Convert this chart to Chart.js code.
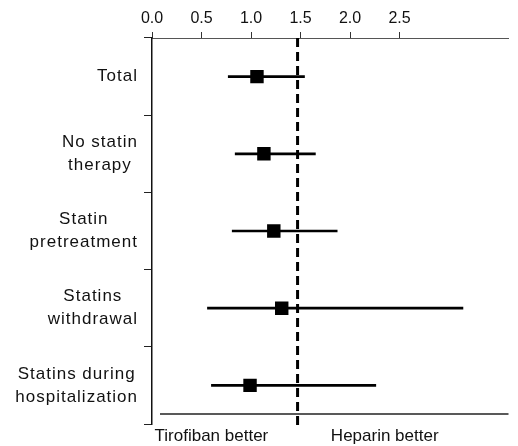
<!DOCTYPE html>
<html>
<head>
<meta charset="utf-8">
<script src="https://cdn.jsdelivr.net/npm/chart.js@4/dist/chart.umd.min.js"></script>
<style>
  html, body { margin: 0; padding: 0; background: #fff; }
  #wrap { width: 518px; height: 446px; position: relative; }
</style>
</head>
<body>
<div id="wrap"><canvas id="forest"></canvas></div>
<script>
// Subgroups (rows) and hazard ratio estimates with confidence limits
const categories = [
    ['Total'],
    ['No statin', 'therapy'],
    ['Statin', 'pretreatment'],
    ['Statins', 'withdrawal'],
    ['Statins during', 'hospitalization']
];
const estimates = [1.06, 1.13, 1.23, 1.31, 0.99];
const lowerCI = [0.77, 0.84, 0.81, 0.56, 0.60];
const upperCI = [1.54, 1.65, 1.87, 3.14, 2.26];

const xTicks = [0.0, 0.5, 1.0, 1.5, 2.0, 2.5];
const refValue = 1.47;
const sideLabels = ['Tirofiban better', 'Heparin better'];
const sideAt = [0.6, 2.35];

const FONT = "'Liberation Sans', Arial, Helvetica, sans-serif";

// Row labels: block right-aligned at the axis, lines centred inside the block
const rowLabels = {
    id: 'rowLabels',
    afterDraw(chart) {
        const { ctx, scales: { y }, chartArea } = chart;
        ctx.save();
        ctx.font = '17px ' + FONT;
        ctx.letterSpacing = '1px';
        ctx.fillStyle = '#111';
        ctx.textAlign = 'center';
        ctx.textBaseline = 'middle';
        const right = chartArea.left - 14;
        const lh = 23;
        categories.forEach((lines, i) => {
            const cy = y.getPixelForValue(i);
            const w = Math.max(...lines.map(t => ctx.measureText(t).width));
            const cx = right - w / 2;
            lines.forEach((t, k) => {
                ctx.fillText(t, cx, cy + (k - (lines.length - 1) / 2) * lh);
            });
        });
        ctx.restore();
    }
};

// Reference (dashed) line and the "better" annotation underneath
const refAndNotes = {
    id: 'refAndNotes',
    afterDatasetsDraw(chart) {
        const { ctx, scales: { x }, chartArea } = chart;
        ctx.save();
        const px = x.getPixelForValue(refValue);
        ctx.strokeStyle = '#000';
        ctx.lineWidth = 3;
        ctx.setLineDash([9, 5]);
        ctx.beginPath();
        ctx.moveTo(px, chartArea.top);
        ctx.lineTo(px, chartArea.bottom + 4);
        ctx.stroke();

        ctx.setLineDash([]);
        ctx.lineWidth = 1.5;
        ctx.strokeStyle = '#222';
        const ly = chartArea.bottom - 10;
        ctx.beginPath();
        ctx.moveTo(chartArea.left + 8, ly);
        ctx.lineTo(chartArea.right, ly);
        ctx.stroke();

        ctx.font = '17px ' + FONT;
        ctx.fillStyle = '#111';
        ctx.textAlign = 'center';
        ctx.textBaseline = 'middle';
        sideLabels.forEach((t, i) => {
            ctx.fillText(t, x.getPixelForValue(sideAt[i]), chartArea.bottom + 12);
        });
        ctx.restore();
    }
};

new Chart(document.getElementById('forest'), {
    type: 'bar',
    data: {
        labels: categories,
        datasets: [{
            type: 'bar',
            data: lowerCI.map((lo, i) => [lo, upperCI[i]]),
            backgroundColor: '#000',
            barThickness: 2,
            order: 2
        }, {
            type: 'line',
            data: estimates,
            showLine: false,
            pointStyle: 'rect',
            pointRadius: 9.5,
            pointBorderWidth: 0,
            pointBackgroundColor: '#000',
            order: 1
        }]
    },
    options: {
        indexAxis: 'y',
        responsive: true,
        maintainAspectRatio: false,
        animation: false,
        layout: { padding: { left: 0, right: 6, top: 0, bottom: 22 } },
        plugins: {
            legend: { display: false },
            tooltip: { enabled: false }
        },
        scales: {
            x: {
                type: 'linear',
                position: 'top',
                min: 0,
                max: 3.6,
                afterBuildTicks: (s) => { s.ticks = xTicks.map(v => ({ value: v })); },
                afterFit: (s) => { s.height = 38; },
                grid: { drawOnChartArea: false, color: '#333', tickLength: 6 },
                border: { color: '#555', width: 1 },
                ticks: {
                    autoSkip: false,
                    maxRotation: 0,
                    padding: 4,
                    color: '#111',
                    font: { size: 16, family: FONT },
                    callback: (v) => Number(v).toFixed(1)
                }
            },
            y: {
                type: 'category',
                afterFit: (s) => { s.width = 152; },
                grid: { drawOnChartArea: false, color: '#222', tickLength: 8 },
                border: { color: '#111', width: 1.5 },
                ticks: { display: false }
            }
        }
    },
    plugins: [rowLabels, refAndNotes]
});
</script>
</body>
</html>
